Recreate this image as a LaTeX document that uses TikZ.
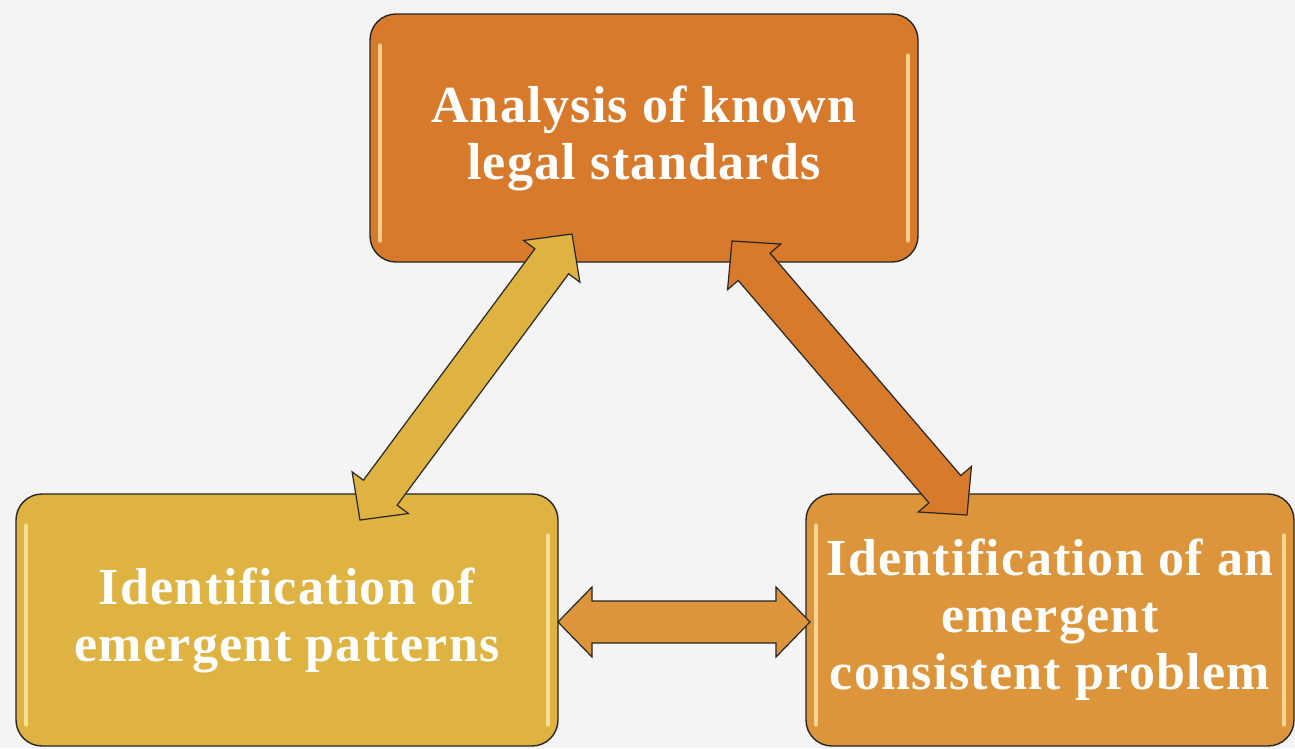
\documentclass[tikz,border=0pt]{standalone}
\usepackage{fontspec}
\setmainfont{Liberation Serif}[LetterSpace=2.5]
\usetikzlibrary{calc}

\definecolor{paper}{HTML}{F4F4F4}
\definecolor{rust}{HTML}{D77A2B}
\definecolor{mustard}{HTML}{DEB342}
\definecolor{amber}{HTML}{DC953A}
\definecolor{gleam}{HTML}{FFF3B8}

\tikzset{
	stage/.style={draw=black!85, line width=1.4pt, rounded corners=26pt, text=white,
		align=center, inner sep=0pt, font=\bfseries\fontsize{52}{57}\selectfont},
	bigarrow/.style={draw=black!85, line width=1.2pt, line join=miter},
	shine/.style={gleam, opacity=.7, line width=4pt, line cap=round}
}

% block arrow with two heads: from, to, colour
\newcommand\tiplen{34pt}
\newcommand\tipwid{35pt}
\newcommand\shaftwid{21pt}
\newcommand\twoway[3]{%
	\coordinate (#1-n) at ($(#1)!\tiplen!(#2)$);
	\coordinate (#2-n) at ($(#2)!\tiplen!(#1)$);
	\filldraw [bigarrow, fill=#3] (#1)
		-- ($(#1-n)!\tipwid!90:(#2)$) -- ($(#1-n)!\shaftwid!90:(#2)$)
		-- ($(#2-n)!\shaftwid!-90:(#1)$) -- ($(#2-n)!\tipwid!-90:(#1)$)
		-- (#2)
		-- ($(#2-n)!\tipwid!90:(#1)$) -- ($(#2-n)!\shaftwid!90:(#1)$)
		-- ($(#1-n)!\shaftwid!-90:(#2)$) -- ($(#1-n)!\tipwid!-90:(#2)$)
		-- cycle;
}

\begin{document}
\begin{tikzpicture}[x=1pt,y=-1pt]
	\fill [paper] (0,0) rectangle (1295,748);
	\useasboundingbox (0,0) rectangle (1295,748);
	
	\node [stage, fill=rust, minimum width=548pt, minimum height=248pt] (known) at (644,138) {Analysis of known\\legal standards};
	\node [stage, fill=mustard, minimum width=542pt, minimum height=252pt] (patterns) at (287,620) {Identification of\\emergent patterns};
	\node [stage, fill=amber, minimum width=488pt, minimum height=252pt] (problem) at (1050,620) {Identification of an\\emergent\\consistent problem};
	
	\foreach \b in {known,patterns,problem} {
		\draw [shine] ([xshift=11pt,yshift=-32pt]\b.north west) -- ([xshift=11pt,yshift=22pt]\b.south west);
		\draw [shine] ([xshift=-11pt,yshift=-42pt]\b.north east) -- ([xshift=-11pt,yshift=22pt]\b.south east);
	}
	
	\coordinate (known-l) at (572,234);
	\coordinate (known-r) at (732,241);
	\coordinate (patterns-t) at (360,520);
	\coordinate (patterns-r) at (558,622);
	\coordinate (problem-t) at (967,515);
	\coordinate (problem-l) at (810,622);
	
	\twoway{patterns-t}{known-l}{mustard}
	\twoway{known-r}{problem-t}{rust}
	\twoway{patterns-r}{problem-l}{amber}
\end{tikzpicture}
\end{document}
